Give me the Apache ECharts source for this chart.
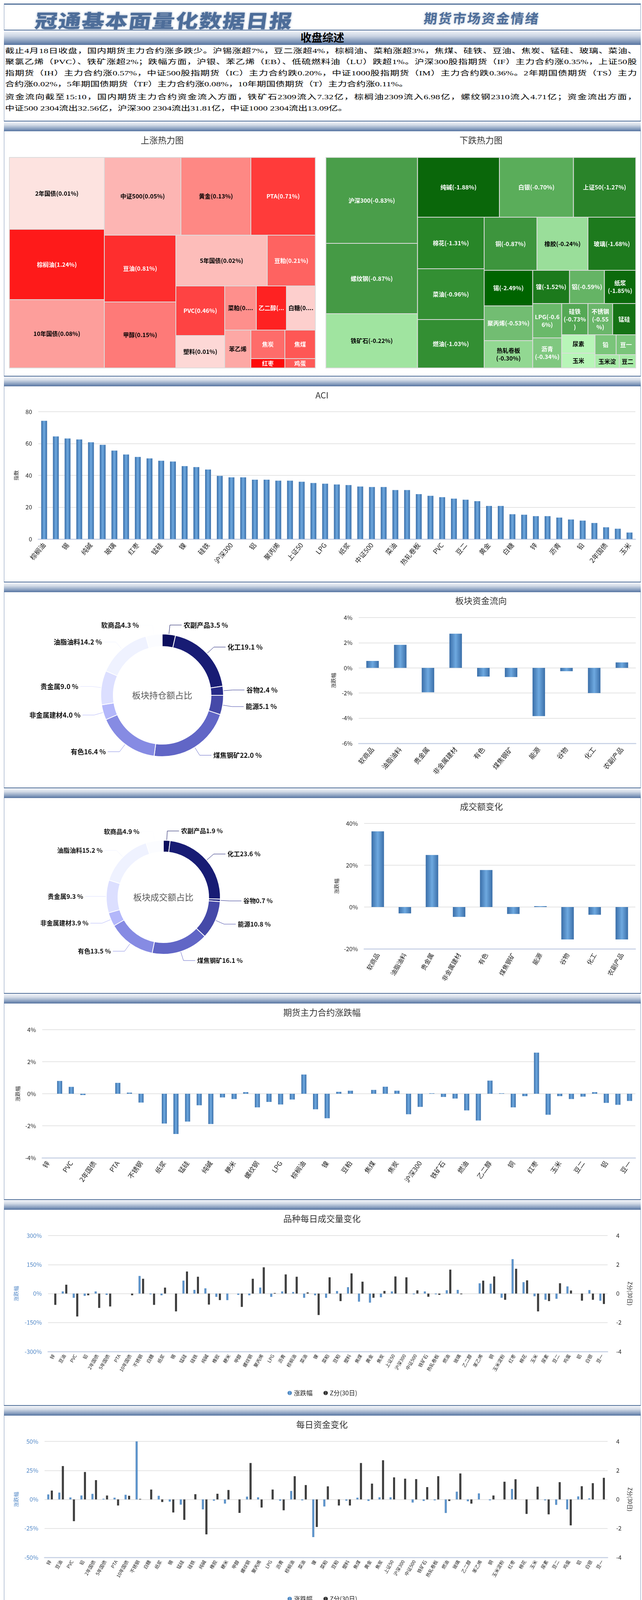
<!DOCTYPE html>
<html><head><meta charset="utf-8">
<script src="https://cdn.jsdelivr.net/npm/echarts/dist/echarts.min.js"></script>
<style>
html,body{margin:0;padding:0;background:#fff;}
body{width:1643px;height:4891px;position:relative;overflow:hidden;font-family:"Noto Sans CJK SC",sans-serif;}
.abs{position:absolute;white-space:nowrap;}
.band{position:absolute;left:10px;width:1630px;height:27px;background:linear-gradient(to bottom,#f4f6fa 0%,#d3dbe7 35%,#8aa0c0 75%,#5573a0 100%);border-top:2px solid #4f6e98;box-sizing:border-box;}
.sl{position:absolute;left:13px;width:1617px;height:30px;line-height:30px;font-size:24px;font-family:"Liberation Serif","Noto Sans CJK SC",serif;color:#000;transform:scaleY(0.72);transform-origin:50% 50%;}
.just{text-align:justify;text-align-last:justify;}
.dl{position:absolute;left:216px;width:1410px;height:30px;line-height:30px;font-size:21px;font-weight:500;color:#000;transform:scaleY(0.8);transform-origin:50% 50%;}
.cal{position:absolute;font-size:26px;font-style:italic;color:#5b78a2;letter-spacing:3px;white-space:nowrap;transform:translate(-50%,-50%) skewX(-8deg);}
</style></head>
<body>
<div class="abs" style="left:10px;top:9px;width:1630px;height:3px;background:#4f6e98;"></div>
<div class="abs" style="left:10px;top:10px;width:1px;height:4872px;background:#7f95b6;"></div>
<div class="abs" style="left:1639px;top:10px;width:1px;height:4872px;background:#7f95b6;"></div>
<div class="abs" style="left:90px;top:14px;font-size:58px;line-height:72px;font-weight:900;color:#4d6d99;letter-spacing:2px;transform:scaleY(0.82) skewX(-6deg);transform-origin:left center;text-shadow:0 0 6px rgba(77,109,153,.6);">冠通基本面量化数据日报</div>
<div class="abs" style="left:1085px;top:26px;font-size:34px;line-height:40px;font-weight:700;color:#4d6d99;letter-spacing:3px;transform:skewX(-6deg);text-shadow:0 0 5px rgba(77,109,153,.5);">期货市场资金情绪</div>
<div class="abs" style="left:10px;top:76px;width:1630px;height:39px;background:linear-gradient(to bottom,#f4f6fa 0%,#c9d3e2 40%,#5573a0 100%);border-top:2px solid #4f6e98;box-sizing:border-box;text-align:center;font-size:28px;line-height:35px;font-weight:700;color:#000;">收盘综述</div>
<div id="summary"></div>
<div class="band" style="top:309px;"></div>
<div class="band" style="top:962px;"></div>
<div class="band" style="top:1489px;"></div>
<div class="band" style="top:2016px;"></div>
<div class="band" style="top:2542px;"></div>
<div class="band" style="top:3070px;"></div>
<div class="band" style="top:3597px;"></div>
<div class="band" style="top:4123px;"></div>
<div class="band" style="top:4650px;"></div>
<div class="abs" style="left:212px;top:4677px;width:1px;height:204px;background:#6f87ab;"></div>
<div class="abs" style="left:10px;top:4779px;width:1630px;height:2px;background:#4f6e98;"></div>
<div class="abs" style="left:10px;top:4880px;width:1630px;height:4px;background:#4f6e98;"></div>
<div class="cal" style="left:113px;top:4731px;">免责声明</div>
<div class="cal" style="left:116px;top:4835px;">分析师</div>
<div id="disc"></div>
<div class="abs" style="left:263px;top:4818px;font-size:25px;line-height:30px;color:#000;">周智诚</div>
<div class="abs" style="left:432px;top:4818px;font-size:25px;line-height:30px;color:#000;">执业资格证号F3082617/Z0016177</div>

<script>
// ---------------- data ----------------
const summaryLines = [
 "截止4月18日收盘，国内期货主力合约涨多跌少。沪锡涨超7%，豆二涨超4%，棕榈油、菜粕涨超3%，焦煤、硅铁、豆油、焦炭、锰硅、玻璃、菜油、",
 "聚氯乙烯（PVC）、铁矿涨超2%；跌幅方面，沪银、苯乙烯（EB）、低硫燃料油（LU）跌超1%。沪深300股指期货（IF）主力合约涨0.35%，上证50股",
 "指期货（IH）主力合约涨0.57%，中证500股指期货（IC）主力合约跌0.20%，中证1000股指期货（IM）主力合约跌0.36%。2年期国债期货（TS）主力",
 "合约涨0.02%，5年期国债期货（TF）主力合约涨0.08%，10年期国债期货（T）主力合约涨0.11%。",
 "资金流向截至15:10，国内期货主力合约资金流入方面，铁矿石2309流入7.32亿，棕榈油2309流入6.98亿，螺纹钢2310流入4.71亿；资金流出方面，",
 "中证500 2304流出32.56亿，沪深300 2304流出31.81亿，中证1000 2304流出13.09亿。"
];
const disclaimerLines = [
 "本报告中的信息均来源于公开资料，我公司对这些信息的准确性和完整性不作任何保证。报告中的内容和意见仅供参考，并",
 "不构成对所述品种买卖的出价或征价。我公司及其雇员对使用本报告及其内容所引发的任何直接或间接损失概不负责。本报告仅",
 "向特定客户传送，版权归冠通期货所有。未经我公司书面许可，任何机构和个人均不得以任何形式翻版、复制、引用或转载。"
];

const upNames = ['2年国债','棕榈油','10年国债','中证500','黄金','PTA','豆油','甲醇','5年国债','豆粕','PVC','塑料','菜粕','乙二醇','白糖','苯乙烯','焦炭','焦煤','红枣','鸡蛋'];
const upPct   = [0.01,1.24,0.08,0.05,0.13,0.71,0.81,0.15,0.02,0.21,0.46,0.01,0.13,0.82,0.05,null,null,null,null,null];
const upSize  = [44712,43740,42525,39004,35621,32835,31293,30927,30420,15990,15875,10375,9153,8701,8362,6499,6351,5694,2088,1872];

const downNames = ['沪深300','螺纹钢','铁矿石','纯碱','白银','上证50','棉花','菜油','燃油','铜','橡胶','玻璃','锡','聚丙烯','热轧卷板','镍','铝','纸浆','LPG','沥青','硅铁','不锈钢','锰硅','尿素','玉米','铅','豆一','玉米淀粉','豆二'];
const downPct   = [-0.83,-0.87,-0.22,-1.88,-0.70,-1.27,-1.31,-0.96,-1.03,-0.87,-0.24,-1.68,-2.49,-0.53,-0.30,-1.52,-0.59,-1.85,-0.66,-0.34,-0.73,-0.55,null,null,null,null,null,null,null];
const downSize  = [51480,42120,32526,31977,28917,24327,22440,22100,21080,18360,17680,16592,11284,11036,8680,7990,7565,6800,6512,5698,5360,5040,4720,3995,3230,2754,2550,2108,1428];

const aciNames = ['棕榈油','豆油','锡','焦煤','纯碱','焦炭','玻璃','铁矿石','红枣','乙二醇','锰硅','螺纹钢','镍','燃油','硅铁','苯乙烯','沪深300','甲醇','铝','铜','聚丙烯','豆粕','上证50','橡胶','LPG','PTA','纸浆','白银','中证500','棉花','菜油','塑料','热轧卷板','菜粕','PVC','不锈钢','豆二','尿素','黄金','玉米淀粉','白糖','鸡蛋','锌','粳米','沥青','豆一','铅','5年国债','2年国债','10年国债','玉米'];
const aciValues = [74.3,64.5,63.2,62.6,60.8,59.2,55.6,53.1,51.6,50.7,49.2,48.7,45.8,45.2,43.7,39.7,38.8,38.8,37.3,37.3,36.7,36.7,36.0,35.2,34.8,34.3,33.9,33.0,32.7,32.7,30.8,30.8,28.2,27.2,26.3,25.4,24.7,23.8,20.8,20.8,15.6,15.3,14.4,14.4,13.5,12.3,11.6,10.1,7.4,6.5,4.1];

const pieNames = ['农副产品','化工','谷物','能源','煤焦钢矿','有色','非金属建材','贵金属','油脂油料','软商品'];
const holdShare = [3.5,19.1,2.4,5.1,22.0,16.4,4.0,9.0,14.2,4.3];
const turnoverShare = [1.9,23.6,0.7,10.8,16.1,13.5,3.9,9.3,15.2,4.9];

const sectorNames = ['软商品','油脂油料','贵金属','非金属建材','有色','煤焦钢矿','能源','谷物','化工','农副产品'];
const sectorFlow = [0.55,1.83,-1.94,2.72,-0.69,-0.73,-3.83,-0.26,-2.00,0.44];
const sectorTurnoverChg = [36.2,-3.05,24.9,-4.7,17.7,-3.3,0.44,-15.5,-3.7,-15.5];

const productNames = ['锌','豆油','PVC','铅','2年国债','5年国债','PTA','10年国债','不锈钢','白糖','纸浆','锡','锰硅','硅铁','纯碱','橡胶','粳米','甲醇','螺纹钢','聚丙烯','LPG','沥青','棕榈油','菜油','镍','菜粕','豆粕','塑料','焦煤','黄金','焦炭','上证50','沪深300','中证500','铁矿石','热轧卷板','燃油','玻璃','乙二醇','苯乙烯','铜','玉米淀粉','红枣','棉花','玉米','尿素','豆二','鸡蛋','铝','白银','豆一'];
const mainChg = [0,0.80,0.43,-0.08,0,0,0.68,0.07,-0.55,0,-1.86,-2.51,-1.74,-0.72,-1.89,-0.23,-0.33,0.10,-0.85,-0.51,-0.67,-0.36,1.20,-0.97,-1.53,0.12,0.19,0,0.24,0.44,0.19,-1.28,-0.82,0.03,-0.20,-0.30,-1.04,-1.67,0.82,0.03,-0.85,-0.15,2.57,-1.31,-0.15,-0.33,-0.18,0.10,-0.57,-0.69,-0.45];
const volChg = [0,11,-22,-12,11,-7,0,0,91,-4,-9,0,67,19,27,-17,-34,-7,-9,31,-17,11,8,-22,-9,-22,13,33,-42,-47,-19,11,0,-4,11,-4,17,19,0,53,51,-22,178,59,-14,-32,-27,37,0,18,-37];
const volZ = [-0.78,0.61,-1.58,-0.12,-0.99,-0.89,0,-0.12,1.02,-0.78,0.41,-1.23,1.52,1.16,-0.76,-0.45,0,-0.92,1.02,1.81,0.04,1.32,1.16,0.08,-1.48,1.12,-0.52,1.39,0.82,-0.29,0.18,1.18,1.12,0.22,-0.22,-0.09,1.65,-0.05,0,0.89,1.18,-0.43,1.71,0.91,-1.23,-0.52,0.71,0.21,-0.49,-0.43,-0.72];
const moneyChg = [4.3,5.9,1.7,3.4,4.8,0.6,1.5,4.0,50,0,3.1,-1.9,-4.5,0,-8.6,-1.1,-3.6,0,2.4,1.8,0,-1.1,7.3,-0.8,-32.5,-6.1,0,-1.1,1.5,-1.3,1.8,1.8,0,-2.7,-1.3,-0.8,-11.7,6.7,-1.6,5.2,-0.8,0,9.0,0,0,-0.8,-4.7,-8.6,2.6,0.9,0];
const moneyZ = [0.61,2.30,-1.50,1.89,1.33,0.27,-0.42,0.25,0.04,0.68,-0.18,-0.90,-1.41,0.36,-2.41,0.39,0.65,-0.93,2.51,-0.56,0.68,-0.75,1.60,0.99,-1.90,0.90,-0.42,-0.42,2.51,1.09,2.70,1.52,1.43,1.40,0.85,1.60,-0.11,1.79,-0.29,0,0.27,1.22,1.39,-1.00,0.88,-1.03,1.19,-1.79,0.91,1.12,1.49];
const sediment = [106,447,228,89,923,811,380,1400,49,258,98,69,55,69,374,293,0,148,864,163,69,41,433,242,49,346,498,157,112,55,118,679,1474,1766,805,366,98,346,157,61,563,61,26,504,195,112,18,469,185,449,89];

const ticks = { aci:[0,80,20], flow:[-6,4,2], turn:[-20,40,20], main:[-4,4,2], vol:[-300,300,150], z:[-4,4,2], money:[-50,50,25], sed:[0,2000,500] };

// ---------------- layout / styles ----------------
// number of tiles in each successive strip of the treemaps (strips alternate vertical / horizontal)
const upStrips = [3,3,2,2,2,3,1,2,1,1];
const downStrips = [3,3,3,3,3,3,2,3,2,2,1,1];
const upColors = ['#fde3e0','#fe1a1a','#fd9e9b','#fdb5b3','#fe8884','#ff3b3a','#fe2e2e','#fe7a78','#fdbdba','#fe6361','#fe4343','#fdd8d6','#fe8f8c','#fe2222','#fdcfcd','#fda8a5','#fe6c6a','#fe5755','#fe0a0a','#fe5a58'];
const upText = ['#000','#fff','#000','#000','#000','#fff','#fff','#000','#000','#fff','#fff','#000','#000','#fff','#000','#000','#fff','#fff','#fff','#fff'];
const downColors = ['#4a9e4a','#459a45','#a0e4a0','#0a670a','#5aad5a','#2a842a','#288628','#338f33','#338f33','#3d953d','#9ade9a','#1d7a1d','#006400','#72bd72','#92d892','#1c7a1c','#65b465','#0c6a0c','#6ab96a','#80c880','#54a854','#6ab66a','#157215','#b8f5b8','#b8f5b8','#7ac57a','#7ac57a','#a8eba8','#a8eba8'];
const downText = ['#fff','#fff','#000','#fff','#fff','#fff','#fff','#fff','#fff','#fff','#000','#fff','#fff','#fff','#000','#fff','#fff','#fff','#fff','#fff','#fff','#fff','#fff','#000','#000','#fff','#fff','#000','#000'];
const pieColors = ['#0c0f5e','#181c74','#262a88','#4549a8','#6166c6','#868be3','#b3b7fa','#dcdfff','#eff2ff','#fbfcff'];

// ---------------- html text ----------------
(function(){
  const yc=[130,158,187,215,248,277];
  const s=document.getElementById('summary');
  summaryLines.forEach((t,i)=>{const d=document.createElement('div');d.className='sl'+((i===3||i===5)?'':' just');d.style.top=(yc[i]-15)+'px';d.textContent=t;s.appendChild(d);});
  const dy=[4692,4729,4766];
  const q=document.getElementById('disc');
  disclaimerLines.forEach((t,i)=>{const d=document.createElement('div');d.className='dl'+(i<2?' just':'');d.style.top=(dy[i]-15)+'px';if(i===0)d.style.textIndent='47px';d.textContent=t;q.appendChild(d);});
})();

// ---------------- charts ----------------
const FONT='"Noto Sans CJK SC","Noto Sans",sans-serif';
function grad(c1,c2){return new echarts.graphic.LinearGradient(0,0,1,0,[{offset:0,color:c1},{offset:0.5,color:c2},{offset:1,color:c1}]);}
const BLUE=()=>grad('#3a6ea8','#6ea9e0');
const BLACK=()=>grad('#050505','#5e5e5e');
function chartAt(l,t,w,h){const d=document.createElement('div');d.style.cssText='position:absolute;left:'+l+'px;top:'+t+'px;width:'+w+'px;height:'+h+'px;';document.body.appendChild(d);return echarts.init(d);}
function txt(text,x,y,size,color){return {type:'text',x:x,y:y,silent:true,style:{text:text,fontSize:size||22,fontFamily:FONT,fill:color||'#333',align:'center',verticalAlign:'middle',textAlign:'center',textVerticalAlign:'middle'}};}
function catAxis(names,interval,rotate,fs,margin){return {type:'category',data:names,axisTick:{show:false},axisLine:{onZero:false,lineStyle:{color:'#ccd5e7',width:3}},axisLabel:{interval:interval,rotate:rotate,fontSize:fs,color:'#222',fontFamily:FONT,margin:margin}};}
function valAxis(t,fmt,name,gap,labelColor,nameColor){return {type:'value',min:t[0],max:t[1],interval:t[2],axisLine:{show:false},axisTick:{show:false},splitLine:{lineStyle:{color:'#e4e4e4',width:2}},axisLabel:{formatter:fmt,fontSize:15,color:labelColor||'#222',fontFamily:FONT,margin:16},name:name,nameLocation:'middle',nameGap:gap,nameTextStyle:{fontSize:13,color:nameColor||'#222',fontFamily:FONT}};}
const G=(o)=>Object.assign({outerBoundsMode:'none',containLabel:false},o);

// strip treemap layout: tile areas proportional to value, strips alternate direction
function stripLayout(vals,strips,box){
  const W=box[2],H=box[3];
  const total=vals.reduce((a,b)=>a+b,0);
  const areas=vals.map(v=>v*W*H/total);
  const rects=new Array(vals.length);
  let x=box[0],y=box[1],w=W,h=H,i=0,vertical=true;
  strips.forEach((n,si)=>{
    const idx=[];for(let k=i;k<i+n;k++)idx.push(k);
    const rowArea=idx.reduce((a,k)=>a+areas[k],0);
    const len=vertical?h:w;
    const last=si===strips.length-1;
    const thick=last?(vertical?w:h):rowArea/len;
    let off=0;
    idx.forEach(k=>{const l=areas[k]/rowArea*len;rects[k]=vertical?[x,y+off,thick,l]:[x+off,y,l,thick];off+=l;});
    if(vertical){x+=thick;w-=thick;}else{y+=thick;h-=thick;}
    vertical=!vertical;i+=n;
  });
  return rects;
}
function heatSeries(names,pct,size,strips,colors,texts,box,overflow){
  const rects=stripLayout(size,strips,box);
  return {type:'custom',coordinateSystem:'none',silent:true,animation:false,
    data:size.map((v,i)=>[v,pct[i]==null?0:pct[i]]),
    renderItem:function(params,api){
      const i=params.dataIndex,r=rects[i];
      const label=pct[i]==null?names[i]:(names[i]+'('+pct[i].toFixed(2)+'%)');
      return {type:'rect',shape:{x:r[0],y:r[1],width:r[2],height:r[3]},
        style:{fill:colors[i],stroke:'#dcdcdc',lineWidth:2},
        textContent:{style:{text:label,fill:texts[i],fontSize:15,fontWeight:'bold',fontFamily:FONT,width:Math.max(4,r[2]-8),height:Math.max(4,r[3]-4),overflow:overflow,lineOverflow:'truncate',ellipsis:'...',align:'center',verticalAlign:'middle',lineHeight:20}},
        textConfig:{position:'inside'}};
    }};
}
const cUp=chartAt(10,336,820,614);
cUp.setOption({animation:false,graphic:[txt('上涨热力图',405,23)],series:[heatSeries(upNames,upPct,upSize,upStrips,upColors,upText,[14,67,783,539],'truncate')]});
const cDown=chartAt(830,336,810,614);
cDown.setOption({animation:false,graphic:[txt('下跌热力图',401,23)],series:[heatSeries(downNames,downPct,downSize,downStrips,downColors,downText,[4,67,793,539],'break')]});

// ACI
const cAci=chartAt(10,989,1630,495);
cAci.setOption({animation:false,graphic:[txt('ACI',814,23)],
  grid:G({left:88,top:65,width:1528,height:326}),
  xAxis:catAxis(aciNames,1,50,17,12),
  yAxis:valAxis(ticks.aci,'{value}','指数',50),
  series:[{type:'bar',data:aciValues,barWidth:15,itemStyle:{color:BLUE()}}]});

function pie(names,vals,center,radius,fs){
  return {type:'pie',center:center,radius:radius,startAngle:90,clockwise:true,silent:true,animation:false,
    itemStyle:{borderColor:'#fff',borderWidth:2},
    label:{show:true,formatter:(p)=>p.name+p.value.toFixed(1)+' %',fontSize:fs,fontWeight:'bold',color:'#111',fontFamily:FONT},
    labelLine:{show:true,length:24,length2:30,lineStyle:{width:1}},
    data:names.map((n,i)=>({name:n,value:vals[i],itemStyle:{color:pieColors[i]}}))};
}
const cP1=chartAt(10,1516,1630,501);
cP1.setOption({animation:false,graphic:[txt('板块持仓额占比',405,264,22,'#555'),txt('板块资金流向',1221,22)],
  grid:G({left:908,top:65,width:709,height:322}),
  xAxis:catAxis(sectorNames,0,50,17,12),
  yAxis:valAxis(ticks.flow,'{value}%','涨跌幅',58),
  series:[pie(pieNames,holdShare,[405,264],[125,157],17),{type:'bar',data:sectorFlow,barWidth:32,itemStyle:{color:BLUE()}}]});
const cP2=chartAt(10,2043,1630,500);
cP2.setOption({animation:false,graphic:[txt('板块成交额占比',408,254,22,'#555'),txt('成交额变化',1222,22)],
  grid:G({left:922,top:65,width:694,height:321}),
  xAxis:catAxis(sectorNames,0,60,16,12),
  yAxis:valAxis(ticks.turn,'{value}%','涨跌幅',64),
  series:[pie(pieNames,turnoverShare,[408,254],[116,146],16),{type:'bar',data:sectorTurnoverChg,barWidth:32,itemStyle:{color:BLUE()}}]});

const cMain=chartAt(10,2569,1630,501);
cMain.setOption({animation:false,graphic:[txt('期货主力合约涨跌幅',814,23)],
  grid:G({left:98,top:67,width:1518,height:328}),
  xAxis:catAxis(productNames,1,55,17,10),
  yAxis:valAxis(ticks.main,'{value}%','涨跌幅',56),
  series:[{type:'bar',data:mainChg,barWidth:13,itemStyle:{color:BLUE()}}]});

function dualChart(top,title,left,width,t,blue,black){
  const c=chartAt(10,top,1630,500);
  const y0=valAxis(t,'{value}%','涨跌幅',left-38,'#4f86c6','#4f86c6');
  const y1={type:'value',position:'right',min:ticks.z[0],max:ticks.z[1],interval:ticks.z[2],axisLine:{show:false},axisTick:{show:false},splitLine:{show:false},
    axisLabel:{fontSize:15,color:'#222',fontFamily:FONT,margin:22},name:'Z分(30日)',nameLocation:'middle',nameRotate:-90,nameGap:50,nameTextStyle:{fontSize:14,color:'#222',fontFamily:FONT}};
  c.setOption({animation:false,graphic:[txt(title,814,23)],
    legend:{top:456,left:'center',icon:'circle',itemWidth:11,itemHeight:17,itemGap:28,textStyle:{fontSize:16,color:'#222',fontFamily:FONT},data:['涨跌幅','Z分(30日)']},
    grid:G({left:left,top:66,width:width,height:297}),
    xAxis:catAxis(productNames,0,60,12,8),
    yAxis:[y0,y1],
    series:[{name:'涨跌幅',type:'bar',data:blue,barWidth:5,barGap:'80%',itemStyle:{color:BLUE()}},
            {name:'Z分(30日)',type:'bar',yAxisIndex:1,data:black,barWidth:5,barGap:'80%',itemStyle:{color:BLACK()}}]});
  return c;
}
dualChart(3097,'品种每日成交量变化',113,1432,ticks.vol,volChg,volZ);
dualChart(3624,'每日资金变化',104,1441,ticks.money,moneyChg,moneyZ);

const cSed=chartAt(10,4150,1630,501);
cSed.setOption({animation:false,graphic:[txt('沉淀资金',814,24)],
  grid:G({left:132,top:67,width:1484,height:344}),
  xAxis:catAxis(productNames,0,60,13,8),
  yAxis:valAxis(ticks.sed,'{value}亿元','金额',90,'#222','#3a6fb0'),
  series:[{type:'bar',data:sediment,barWidth:13,itemStyle:{color:BLUE()}}]});
</script>
</body></html>
